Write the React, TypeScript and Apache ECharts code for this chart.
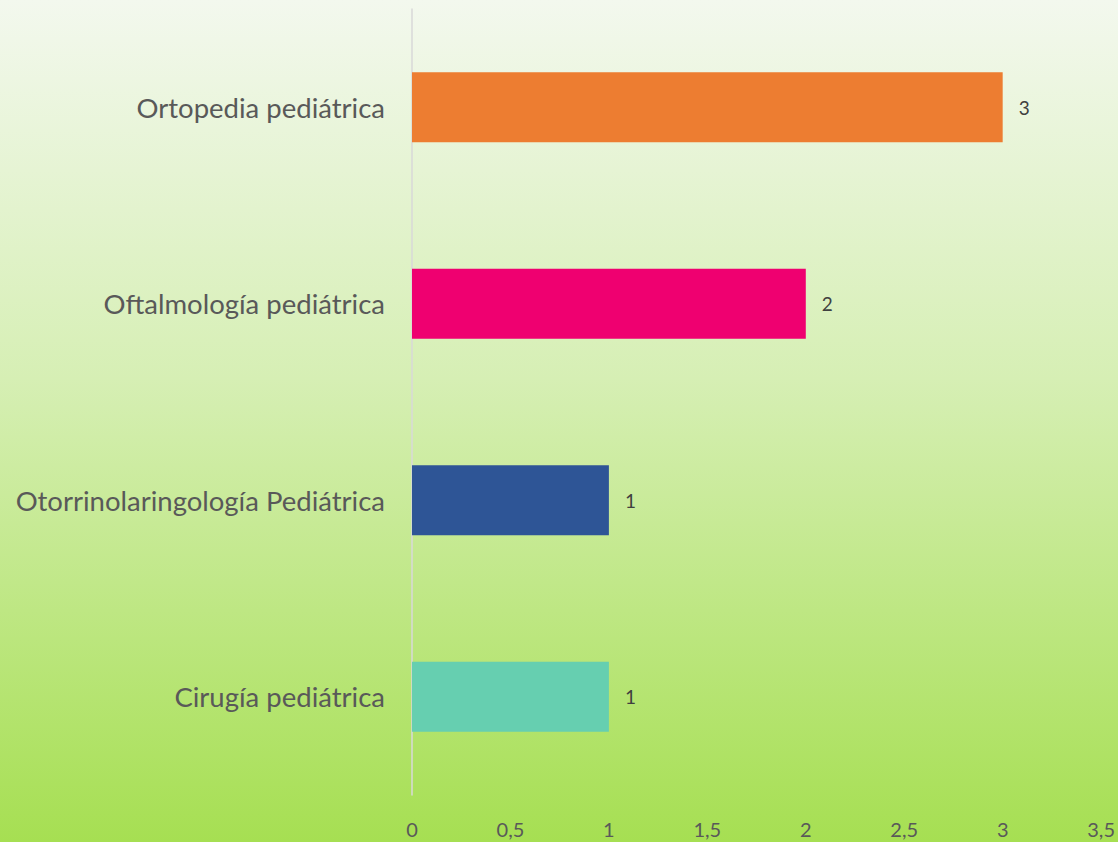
import React, { useEffect, useRef } from "react";
import * as echarts from "echarts";

const categories = [
  "Cirugía pediátrica",
  "Otorrinolaringología Pediátrica",
  "Oftalmología pediátrica",
  "Ortopedia pediátrica",
];
const values = [1, 1, 2, 3];
const barColors = ["#66cfb0", "#2e5596", "#ef0070", "#ed7d31"];

export default function App() {
  const ref = useRef<HTMLDivElement>(null);
  useEffect(() => {
    if (!ref.current) return;
    const chart = echarts.init(ref.current, null, { renderer: "svg" });
    chart.setOption({
      animation: false,
      textStyle: { fontFamily: "Lato" },
      grid: { left: 412, right: 16.5, top: 9, bottom: 47, containLabel: false },
      xAxis: {
        type: "value",
        min: 0,
        max: 3.5,
        interval: 0.5,
        axisLine: { show: false },
        axisTick: { show: false },
        splitLine: { show: false },
        axisLabel: {
          fontSize: 20,
          color: "#595959",
          margin: 24,
          fontFamily: "Lato",
          formatter: (v: number) => String(v).replace(".", ","),
        },
      },
      yAxis: {
        type: "category",
        data: categories,
        axisLine: { show: true, lineStyle: { color: "#d9d9d9", width: 1.5 } },
        axisTick: { show: false },
        axisLabel: {
          fontSize: 27.5,
          color: "#595959",
          margin: 27,
          fontFamily: "Lato",
        },
      },
      series: [
        {
          type: "bar",
          data: values.map((v, i) => ({ value: v, itemStyle: { color: barColors[i] } })),
          barWidth: 70,
          label: {
            show: true,
            position: "right",
            distance: 16,
            fontSize: 19,
            color: "#404040",
            fontFamily: "Lato",
          },
        },
      ],
    });
    return () => chart.dispose();
  }, []);
  return (
    <div
      style={{
        position: "absolute",
        left: 0,
        top: 0,
        width: 1118,
        height: 842,
        background: "linear-gradient(to bottom, #f3f8ee 0%, #d6efb4 45%, #a6df52 100%)",
      }}
    >
      <div ref={ref} style={{ width: 1118, height: 842 }} />
    </div>
  );
}
